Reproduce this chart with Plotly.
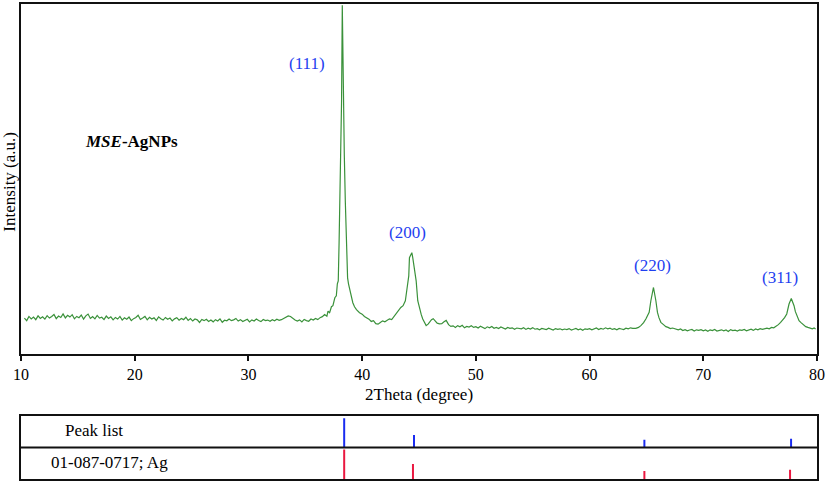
import plotly.graph_objects as go

# ---------------- data ----------------
# background segment 10.3 .. 36.3 deg, step 0.2
bg1_start, bg1_step = 10.3, 0.2
bg1_intensity = [
    355, 330, 372, 348, 366, 340, 378, 352, 369, 345,
    380, 356, 372, 392, 350, 376, 362, 398, 358, 384,
    366, 390, 348, 372, 360, 386, 345, 378, 396, 352,
    370, 348, 382, 356, 364, 340, 376, 352, 368, 338,
    362, 346, 372, 335, 358, 344, 366, 330, 350, 362,
    384, 342, 356, 372, 338, 364, 346, 358, 332, 368,
    350, 336, 362, 344, 356, 328, 348, 360, 334, 352,
    340, 364, 332, 350, 326, 346, 338, 312, 342, 330,
    344, 322, 336, 318, 340, 326, 348, 314, 334, 328,
    346, 330, 338, 352, 326, 340, 322, 336, 344, 318,
    338, 326, 346, 332, 320, 342, 330, 336, 324, 340,
    328, 344, 334, 340, 352, 366, 378, 372, 350, 336,
    326, 338, 318, 342, 330, 324, 346, 336, 352, 340,
    360,
]

# (111) and (200) region
peak1_theta = [36.5, 36.7, 36.9, 37.0, 37.14, 37.3, 37.43, 37.6, 37.73, 37.82,
               37.90, 37.97, 38.04, 38.12, 38.19, 38.254, 38.34, 38.43, 38.52, 38.62,
               38.72, 38.80, 38.90, 39.04, 39.18, 39.33, 39.5, 39.77, 40.0, 40.2,
               40.4, 40.6, 40.8, 41.0, 41.2, 41.4, 41.6, 41.8, 42.0, 42.2,
               42.4, 42.6, 42.8, 43.0, 43.2, 43.4, 43.6, 43.8, 43.96, 44.10,
               44.16, 44.30, 44.37, 44.45, 44.60, 44.75, 44.89, 45.04, 45.2, 45.33,
               45.5, 45.63, 45.8, 45.92, 46.1, 46.25, 46.4, 46.6, 46.8, 47.0,
               47.2, 47.39, 47.6, 47.8]
peak1_intensity = [370, 392, 375, 425, 410, 470, 480, 560, 580, 700,
                   730, 1100, 1530, 2200, 2530, 3497, 2530, 2000, 1530, 1000,
                   760, 700, 640, 560, 510, 470, 440, 410, 395, 372,
                   360, 345, 322, 330, 300, 295, 312, 328, 318, 336,
                   348, 340, 372, 410, 440, 462, 480, 530, 663, 780,
                   963, 990, 1013, 963, 830, 730, 530, 447, 390, 347,
                   300, 280, 295, 313, 340, 350, 330, 305, 297, 300,
                   318, 332, 290, 272]

# background segment 48.0 .. 63.8 deg, step 0.2
bg2_start, bg2_step = 48.0, 0.2
bg2_intensity = [
    278, 262, 280, 268, 284, 258, 272, 266, 279, 262,
    270, 256, 274, 262, 250, 268, 258, 272, 254, 262,
    250, 266, 255, 246, 262, 252, 258, 244, 256, 250,
    248, 258, 242, 254, 246, 260, 244, 250, 238, 252,
    246, 240, 254, 244, 236, 250, 242, 248, 238, 246,
    240, 250, 236, 244, 252, 238, 246, 234, 248, 242,
    250, 238, 246, 256, 240, 252, 244, 258, 248, 254,
    242, 250, 238, 252, 246, 240, 254, 248, 258, 252,
]

# (220) region
peak3_theta = [64.07, 64.3, 64.51, 64.75, 64.95, 65.1, 65.24, 65.39, 65.62, 65.83,
               65.97, 66.1, 66.27, 66.5, 66.71, 66.9, 67.1, 67.3, 67.59]
peak3_intensity = [252, 262, 280, 310, 347, 380, 413, 530, 663, 530,
                   413, 360, 313, 290, 270, 262, 250, 256, 247]

# background segment 67.8 .. 75.4 deg, step 0.2
bg3_start, bg3_step = 67.8, 0.2
bg3_intensity = [
    238, 246, 230, 240, 228, 236, 242, 226, 238, 232,
    240, 228, 236, 224, 238, 230, 242, 226, 234, 238,
    228, 236, 222, 240, 230, 234, 226, 238, 232, 242,
    228, 236, 244, 232, 246, 238, 250, 242, 252,
]

# (311) region
peak4_theta = [75.6, 75.8, 76.0, 76.2, 76.37, 76.6, 76.8, 76.95, 77.15, 77.34,
               77.54, 77.74, 77.98, 78.1, 78.27, 78.42, 78.57, 78.8, 79.01, 79.2,
               79.4, 79.59, 79.75, 79.88]
peak4_intensity = [255, 248, 262, 258, 270, 290, 312, 330, 360, 397,
                   497, 553, 480, 420, 363, 330, 313, 290, 270, 262,
                   252, 247, 256, 247]

# peak list / reference card (2theta, relative intensity %)
peaklist_theta = [38.42, 44.56, 64.82, 77.72]
peaklist_rel = [100, 43, 27, 30]
ref_theta = [38.42, 44.47, 64.82, 77.63]
ref_rel = [100, 51, 27, 31]

hkl_labels = ["(111)", "(200)", "(220)", "(311)"]
x_ticks = [10, 20, 30, 40, 50, 60, 70, 80]

# ---------------- build series ----------------
def grid(start, step, vals):
    return [round(start + step * i, 4) for i in range(len(vals))]

theta = (grid(bg1_start, bg1_step, bg1_intensity) + peak1_theta +
         grid(bg2_start, bg2_step, bg2_intensity) + peak3_theta +
         grid(bg3_start, bg3_step, bg3_intensity) + peak4_theta)
intensity = (bg1_intensity + peak1_intensity + bg2_intensity + peak3_intensity +
             bg3_intensity + peak4_intensity)

def sticks(xs, rel, base):
    sx, sy = [], []
    for x, r in zip(xs, rel):
        sx += [x, x, None]
        sy += [base, base + r / 100 * 0.94, None]
    return sx, sy

FONT = "Liberation Serif"
fig = go.Figure()
fig.add_trace(go.Scatter(x=theta, y=intensity, mode="lines",
                         line=dict(color="#3a913a", width=1.2),
                         xaxis="x", yaxis="y", showlegend=False))
bx, by = sticks(peaklist_theta, peaklist_rel, 1.0)
fig.add_trace(go.Scatter(x=bx, y=by, mode="lines", line=dict(color="#1a2cf0", width=2),
                         xaxis="x2", yaxis="y2", showlegend=False))
rx, ry = sticks(ref_theta, ref_rel, 0.0)
fig.add_trace(go.Scatter(x=rx, y=ry, mode="lines", line=dict(color="#ea1840", width=2),
                         xaxis="x2", yaxis="y2", showlegend=False))

axis_common = dict(showline=True, linewidth=2, linecolor="#111", mirror=True,
                   showgrid=False, zeroline=False)
fig.update_layout(
    width=827, height=482, autosize=False,
    margin=dict(l=21, r=8, t=2, b=3),
    paper_bgcolor="white", plot_bgcolor="white",
    font=dict(family=FONT, size=16, color="black"),
    xaxis=dict(domain=[0, 1], range=[10, 80], anchor="y", tickvals=x_ticks,
               ticks="outside", ticklen=5, tickwidth=1.5, tickcolor="#111",
               tickfont=dict(family=FONT, size=16, color="black"), **axis_common),
    yaxis=dict(domain=[0.2642, 1], range=[0, 3510], anchor="x",
               showticklabels=False, ticks="", **axis_common),
    xaxis2=dict(domain=[0, 1], range=[10, 80], anchor="y2",
                showticklabels=False, ticks="", **axis_common),
    yaxis2=dict(domain=[0, 0.1321], range=[0, 2], anchor="x2",
                showticklabels=False, ticks="", **axis_common),
)

fig.add_shape(type="line", xref="x2 domain", yref="y2", x0=0, x1=1, y0=1, y1=1,
              line=dict(color="#111", width=2))

def note(text, x, y, xref, yref, color="black", size=17, angle=0):
    fig.add_annotation(x=x, y=y, xref=xref, yref=yref, text=text, showarrow=False,
                       xanchor="center", yanchor="middle", textangle=angle,
                       font=dict(family=FONT, size=size, color=color))

label_pos = [(35.18, 2910), (44.01, 1220), (65.53, 880), (76.75, 765)]
for txt, (ax_, ay_) in zip(hkl_labels, label_pos):
    note(txt, ax_, ay_, "x", "y", color="#1f3ff0", size=17)

note("<b><i>MSE</i>-AgNPs</b>", 19.71, 2130, "x", "y", size=17)
note("2Theta (degree)", 0.5, 0.178, "paper", "paper", size=17)
note("Intensity (a.u.)", -0.0145, 0.627, "paper", "paper", size=17, angle=-90)
note("Peak list", 0.0915, 1.55, "paper", "y2", size=17)
note("01-087-0717; Ag", 0.1115, 0.52, "paper", "y2", size=17)

fig.write_html("out.html")
